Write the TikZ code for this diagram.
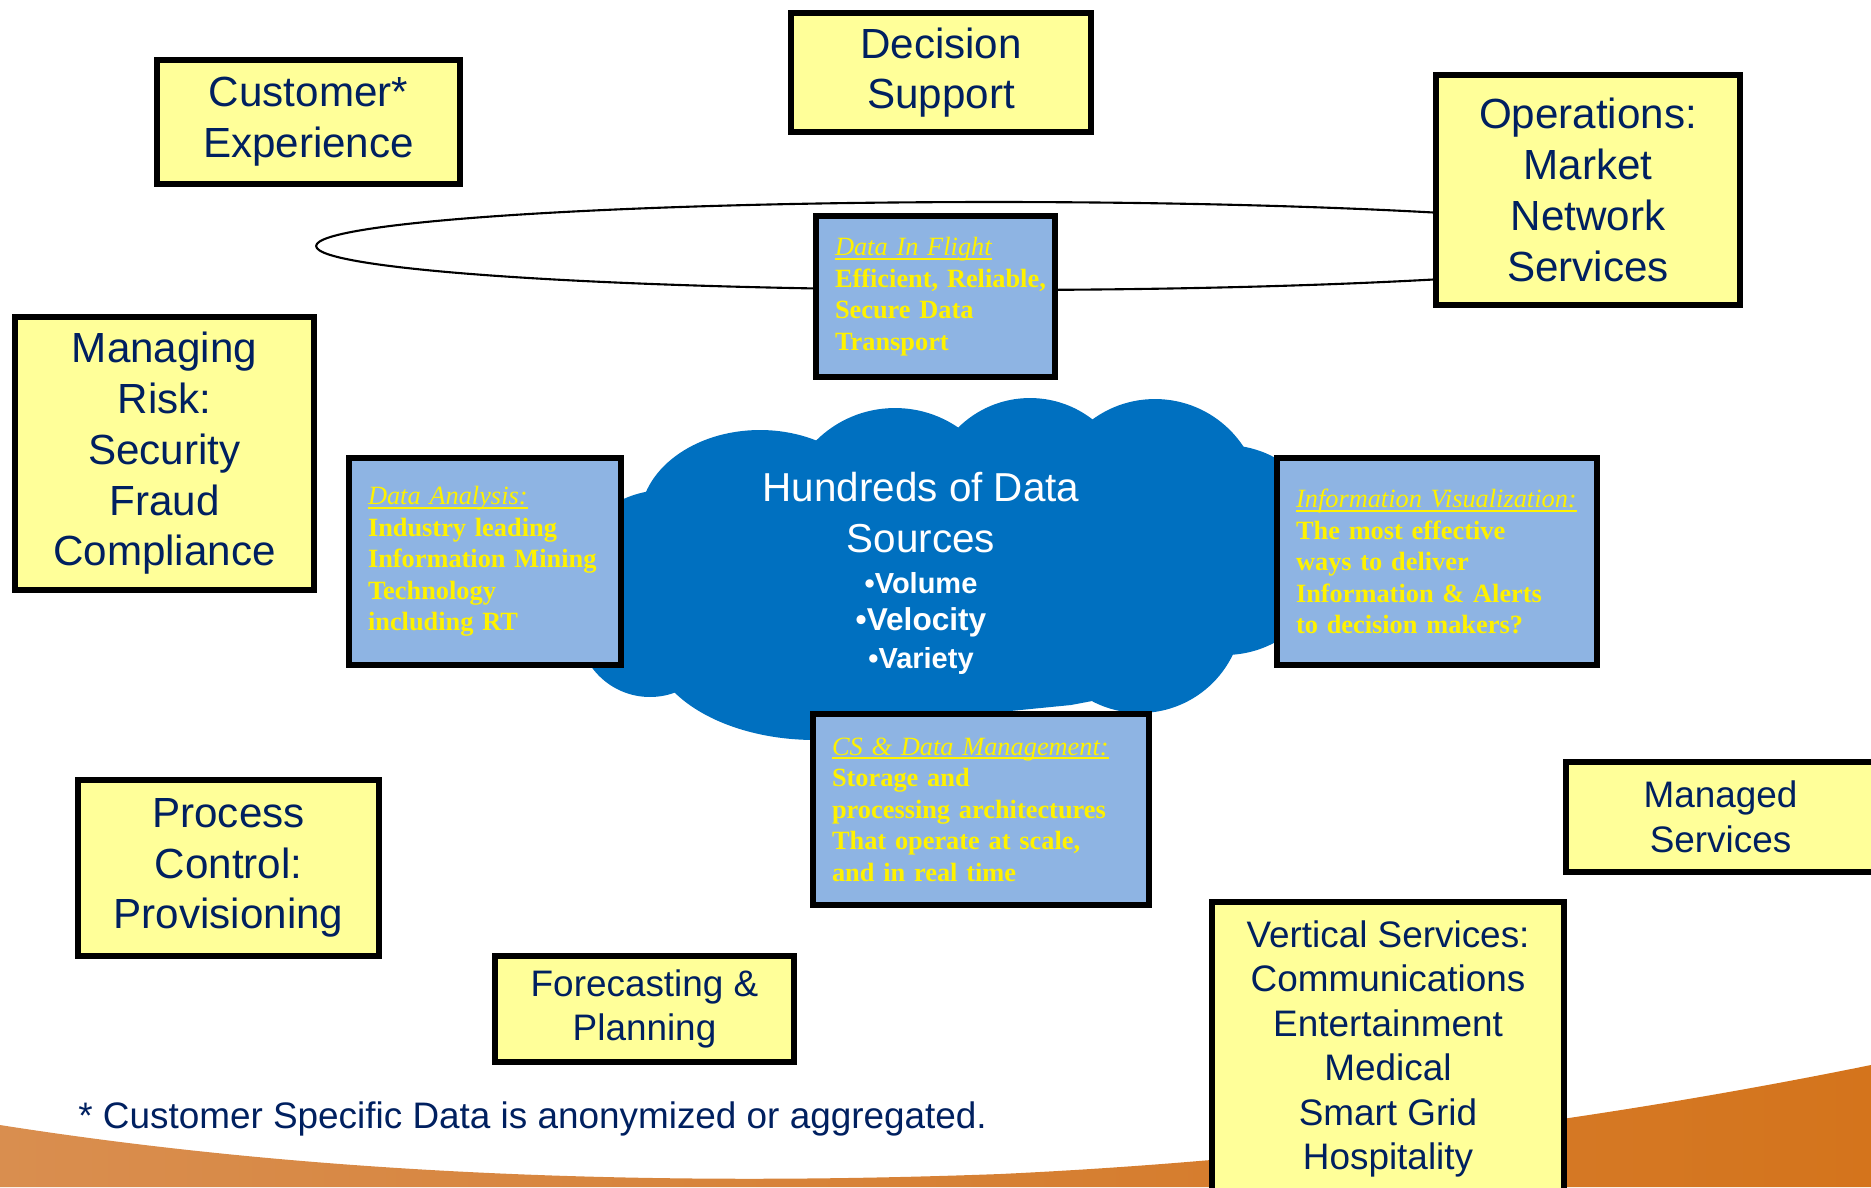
\documentclass[tikz,border=0pt]{standalone}
\usepackage{fontspec}
\setmainfont{Liberation Serif}
\setsansfont{Liberation Sans}
\usetikzlibrary{positioning}

\definecolor{navy}{HTML}{002060}
\definecolor{paleyellow}{HTML}{FFFF99}
\definecolor{skyblue}{HTML}{8EB4E3}
\definecolor{cloudblue}{HTML}{0070C0}
\definecolor{orangeL}{HTML}{D98E4F}
\definecolor{orangeR}{HTML}{D4741C}

\newcommand{\techhead}[1]{{\mdseries\itshape\setbox0=\hbox{#1}\rlap{\rule[-2.4pt]{\wd0}{1.2pt}}\box0}}

\begin{document}
\begin{tikzpicture}[x=0.02cm, y=-0.02cm,
  goal/.style={draw=black, line width=3.4pt, fill=paleyellow, text=navy, align=center, inner sep=2pt,
    font=\sffamily\fontsize{24}{28.9}\selectfont},
  goalsmall/.style={goal, font=\sffamily\fontsize{21}{25.3}\selectfont},
  tech/.style={draw=black, line width=3.4pt, fill=skyblue, text=yellow, align=left, inner xsep=0.38cm, inner ysep=2pt,
    font=\bfseries\fontsize{15}{17.9}\selectfont}]

  \useasboundingbox (0,0) rectangle (1871,1187);
  \clip (0,0) rectangle (1871,1187);

  % orange swoosh at the bottom
  \shade[left color=orangeL, right color=orangeR] (0,1125) .. controls (350,1180) and (700,1185) .. (1000,1174)
    .. controls (1300,1160) and (1600,1120) .. (1871,1065) -- (1871,1187) -- (0,1187) -- cycle;

  % ring
  \draw[line width=1.2pt] (994,246) ellipse [x radius=13.56cm, y radius=0.88cm];

  % cloud
  \fill[cloudblue] (760,520) ellipse [x radius=2.4cm, y radius=1.8cm];
  \fill[cloudblue] (895,520) circle [radius=2.24cm];
  \fill[cloudblue] (1030,500) circle [radius=2.04cm];
  \fill[cloudblue] (1155,505) circle [radius=2.12cm];
  \fill[cloudblue] (1225,550) circle [radius=2.1cm];
  \fill[cloudblue] (1140,610) circle [radius=2.06cm];
  \fill[cloudblue] (815,640) ellipse [x radius=3.3cm, y radius=2cm];
  \fill[cloudblue] (665,590) circle [radius=2cm];
  \fill[cloudblue] (650,625) circle [radius=1.44cm];
  \fill[cloudblue] (650,560) -- (700,480) -- (800,450) -- (900,440) -- (1030,430) -- (1160,430) -- (1230,480)
    -- (1260,560) -- (1230,640) -- (1150,690) -- (1071,705) -- (1000,712) -- (820,712) -- (700,680) -- (650,640) -- cycle;

  \node[text=white, align=center, inner sep=0pt, font=\sffamily\fontsize{23}{29}\selectfont] (sources) at (921,513)
    {Hundreds of Data\\ Sources};
  \node[text=white, align=center, inner sep=0pt, below=0.37cm of sources, font=\sffamily\bfseries\fontsize{16.5}{21.3}\selectfont] (vvv)
    {•Volume\\ {\fontsize{18}{21.3}\selectfont •Velocity}\\ •Variety};

  % goals
  \node[goal, minimum width=6.06cm, minimum height=2.48cm] (customer) at (308.5,122) {Customer*\\ Experience};
  \node[goal, minimum width=6.0cm, minimum height=2.38cm] (decision) at (941,72.5) {Decision\\ Support};
  \node[goal, minimum width=6.08cm, minimum height=4.6cm] (operations) at (1588,190) {Operations:\\ Market\\ Network\\ Services};
  \node[goal, minimum width=5.98cm, minimum height=5.46cm] (risk) at (164.5,453.5) {Managing\\ Risk:\\ Security\\ Fraud\\ Compliance};
  \node[goal, minimum width=6.02cm, minimum height=3.52cm] (process) at (228.5,868) {Process\\ Control:\\ Provisioning};
  \node[goalsmall, minimum width=5.98cm, minimum height=2.12cm] (forecast) at (644.5,1009) {Forecasting \&\\ Planning};
  \node[goalsmall, minimum width=6.18cm, minimum height=2.2cm] (managed) at (1720.5,817) {Managed\\ Services};
  \node[goalsmall, minimum width=7.04cm, minimum height=5.88cm] (vertical) at (1388,1049)
    {Vertical Services:\\ Communications\\ Entertainment\\ Medical\\ Smart Grid\\ Hospitality};

  % technology boxes
  \node[tech, text width=4.02cm, minimum height=3.22cm] (flight) at (935.5,296.5)
    {\techhead{Data In Flight}\\ \mbox{Efficient, Reliable,}\\ Secure Data\\ Transport};
  \node[tech, text width=4.68cm, minimum height=4.14cm] (analysis) at (485,561.5)
    {\techhead{Data Analysis:}\\ Industry leading\\ Information Mining\\ Technology\\ including RT};
  \node[tech, text width=5.64cm, minimum height=4.14cm] (visual) at (1437,561.5)
    {\techhead{Information Visualization:}\\ The most effective\\ ways to deliver\\ Information \& Alerts\\ to decision makers?};
  \node[tech, text width=5.96cm, minimum height=3.82cm] (datamgmt) at (981,809.5)
    {\techhead{CS \& Data Management:}\\ Storage and\\ processing architectures\\ That operate at scale,\\ and in real time};

  \node[anchor=base west, inner sep=0pt, text=navy, font=\sffamily\fontsize{21}{25}\selectfont] (note) at (78,1128)
    {* Customer Specific Data is anonymized or aggregated.};

\end{tikzpicture}
\end{document}
